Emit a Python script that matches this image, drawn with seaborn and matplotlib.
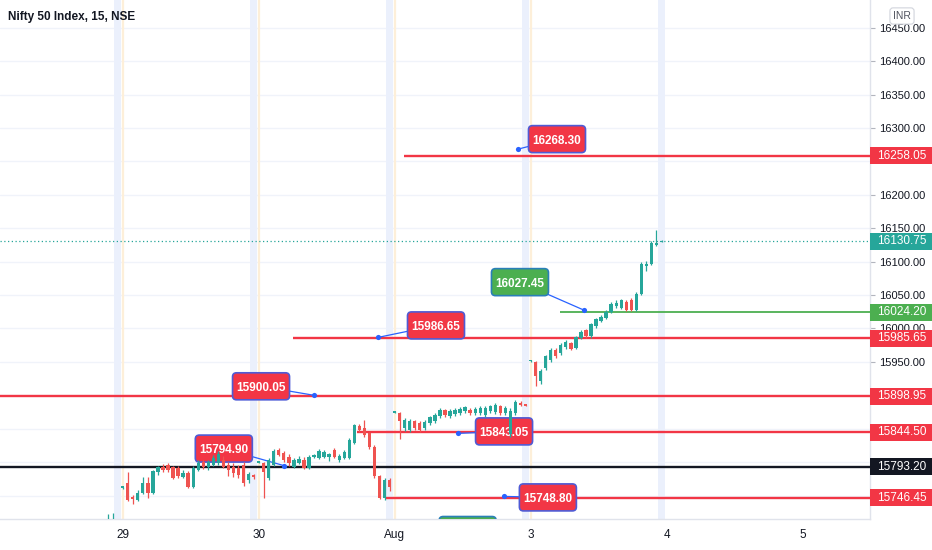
import numpy as np
import pandas as pd
import matplotlib
matplotlib.use("Agg")
import matplotlib.pyplot as plt
import matplotlib.transforms as mtransforms
from matplotlib.patches import Rectangle, FancyBboxPatch
import seaborn as sns

# ---------------- data ----------------
title = "Nifty 50 Index, 15, NSE"
day_labels = ["29", "30", "Aug", "3", "4", "5"]
bars_per_day = 27

# tail of 28 Jul (3 bars)
o28 = [15702, 15706, 15711]
h28 = [15722, 15724, 15714]
l28 = [15690, 15698, 15700]
c28 = [15712, 15713, 15709.4]

# 29 Jul
o29 = [15762.3, 15769, 15748, 15743.5, 15754, 15769, 15754, 15785.5, 15793, 15796, 15793, 15791.5, 15778, 15784,
       15763, 15788.5, 15800.5, 15793, 15796, 15799, 15803.5, 15796, 15793, 15791.5, 15796, 15773.5, 15781]
h29 = [15763.5, 15785.5, 15751, 15758.5, 15778, 15778, 15788.5, 15794.5, 15797.5, 15799, 15794.5, 15794.5, 15788.5, 15787,
       15794.5, 15803.5, 15803.5, 15803.5, 15811, 15817.35, 15809.5, 15800.5, 15799, 15796, 15800.5, 15785.5, 15782.5]
l29 = [15760, 15742, 15737.8, 15742, 15752.5, 15746.5, 15752.5, 15781, 15785.5, 15785.5, 15775, 15776.5, 15776.5, 15761.5,
       15761.5, 15787, 15790, 15788.5, 15794.5, 15796, 15791.5, 15779.5, 15778, 15776.5, 15764.5, 15769, 15775]
c29 = [15763, 15743.5, 15745, 15754, 15769, 15754, 15787, 15793, 15788.5, 15788.5, 15776.5, 15779.5, 15784, 15763,
       15791.5, 15799, 15793, 15800.5, 15806.5, 15812.5, 15793, 15788.5, 15784, 15781, 15769, 15782.5, 15778.45]

# 30 Jul
o30 = [15800, 15799, 15776.5, 15796, 15818.5, 15814, 15808, 15793, 15799, 15803.5, 15791.5, 15808, 15806.5, 15808,
       15808, 15818.5, 15803.5, 15806.5, 15806.5, 15829, 15854.5, 15851.5, 15844, 15823, 15779.5, 15746.5, 15773.5]
h30 = [15801.5, 15800.5, 15806.5, 15820, 15821.5, 15817, 15812.5, 15806.5, 15809.5, 15808, 15811, 15812.5, 15820, 15818.5,
       15814, 15821.5, 15812.5, 15818.5, 15836.5, 15857.5, 15857.5, 15862.8, 15845.5, 15826, 15781, 15776.5, 15776.5]
l30 = [15798.5, 15747, 15773.5, 15794.5, 15809.5, 15800.5, 15794.5, 15791.5, 15797.5, 15790, 15790, 15806.5, 15805, 15806.5,
       15802, 15806.5, 15800.5, 15805, 15805, 15827.5, 15845.5, 15838, 15820, 15776.5, 15744.85, 15743.5, 15757]
c30 = [15800.5, 15785.5, 15803.5, 15817, 15811, 15803.5, 15799, 15803.5, 15805, 15791.5, 15808, 15811, 15817, 15815.5,
       15812.5, 15808, 15809.5, 15815.5, 15833.5, 15856, 15848.5, 15841, 15823, 15779.5, 15746.5, 15773.5, 15763.05]

# 2 Aug
o02 = [15874.9, 15873.5, 15851.5, 15848.5, 15861, 15859, 15851.5, 15858.5, 15861, 15868.5, 15878.5, 15868.5, 15872, 15873.5,
       15876, 15878.5, 15873.5, 15873.5, 15871, 15876, 15875, 15883.5, 15874, 15842, 15874, 15889, 15885.5]
h02 = [15876, 15875.5, 15866.5, 15865, 15863.5, 15862, 15863.5, 15869.5, 15874, 15881.5, 15880, 15880, 15881.5, 15883,
       15884.5, 15881.5, 15883, 15883.5, 15884.5, 15886, 15888, 15886, 15884.5, 15881.5, 15892.9, 15891, 15886]
l02 = [15873, 15834.65, 15847, 15845.5, 15848.5, 15845.5, 15848.5, 15856, 15859, 15866.5, 15868, 15866.5, 15869.5, 15871,
       15874, 15871, 15871, 15871, 15868, 15874, 15872.5, 15871, 15871, 15838, 15871, 15884, 15884]
c02 = [15875.5, 15861, 15863.5, 15862, 15851, 15848.5, 15860.5, 15867, 15871, 15878.5, 15870, 15876, 15878.5, 15880,
       15882, 15873.5, 15880, 15881, 15881, 15883.5, 15886, 15873.5, 15881.5, 15877, 15890.5, 15885, 15885.15]

# 3 Aug
o03 = [15951.55, 15950, 15921, 15941, 15953.5, 15968.5, 15963.5, 15972, 15978.5, 15971, 15986, 15997, 15988.5, 16003.5,
       16011, 16016, 16025, 16033.5, 16031, 16040, 16042, 16027, 16051, 16093.5, 16096, 16124.5, 16130]
h03 = [15953, 15951.5, 15940, 15961, 15971, 15971.5, 15978.5, 15982.5, 15980.5, 15989, 15997, 15999, 16008.5, 16016,
       16019.5, 16027.5, 16039.5, 16042.5, 16044.5, 16042, 16045, 16054, 16099, 16101, 16131, 16146.9, 16132]
l03 = [15949.5, 15914.35, 15917, 15938.5, 15950.5, 15955.5, 15961, 15970, 15968.5, 15969, 15984.5, 15986, 15986, 16001,
       16009.5, 16014.5, 16023.5, 16031, 16029.5, 16025.5, 16025.5, 16025.5, 16049.5, 16086, 16094.5, 16123, 16129]
c03 = [15952, 15928.5, 15937, 15958.5, 15968.5, 15958.5, 15976, 15980, 15970, 15987, 15995, 15988.5, 16006, 16013.5,
       16017, 16025, 16037, 16038.5, 16042, 16027, 16027, 16052, 16097, 16097, 16128.5, 16128.5, 16130.75]

day_start_bar = [-3, 0, 27, 54, 81]

# horizontal drawings
line_levels = [16258.05, 15985.65, 15898.95, 15844.50, 15793.20, 15746.45, 16024.20]
line_start_bar = [55.9, 33.8, -30, 46.5, -30, 52.3, 86.8]
line_kind = ["red", "red", "red", "red", "black", "red", "green"]
last_price = 16130.75
price_ticks = [15950, 16000, 16050, 16100, 16150, 16200, 16300, 16350, 16400, 16450]

# price notes (callouts)
note_values = [16268.30, 15986.65, 15900.05, 15843.05, 15794.90, 15748.80, 16027.45]
note_bars = [78.5, 50.7, 38.0, 66.6, 32.0, 75.7, 91.6]
note_kind = ["red", "red", "red", "red", "red", "red", "green"]
hidden_note = (68.5, 15698.5, "15700.00")

# ---------------- styling / layout ----------------
W, H = 932, 550
PLOT_R, PLOT_B = 870, 519
RED, GREEN_C, RED_C = "#f23645", "#26a69a", "#ef5350"
LINE_GREEN, BLACK, BLUE = "#4caf50", "#131722", "#2962ff"
kind_color = {"red": RED, "black": BLACK, "green": LINE_GREEN}
note_offsets = [(39, 10), (58, 12), (-53, 9), (46, 2), (-60, 17), (44, -1), (-64, 28)]
BOX_W, BOX_H = 57, 27
BOLD_FONT = ['Liberation Sans', 'DejaVu Sans']

sns.set_theme(style="white")
plt.rcParams['font.family'] = ['Liberation Sans', 'DejaVu Sans']

rows = []
for s, (o, h, l, c) in zip(day_start_bar, [(o28, h28, l28, c28), (o29, h29, l29, c29), (o30, h30, l30, c30),
                                           (o02, h02, l02, c02), (o03, h03, l03, c03)]):
    for i in range(len(o)):
        rows.append(dict(bar=s + i, open=o[i], high=h[i], low=l[i], close=c[i]))
df = pd.DataFrame(rows)
df["up"] = df["close"] >= df["open"]
df["color"] = np.where(df["up"], GREEN_C, RED_C)

fig = plt.figure(figsize=(W / 100, H / 100), dpi=100)
fig.patch.set_facecolor("white")
ax = fig.add_axes([0, 1 - PLOT_B / H, PLOT_R / W, PLOT_B / H])
ax.set_facecolor("white")

x0, x1 = -24.36, 148.4
y0, y1 = 15715.0, 16491.4
ax.set_xlim(x0, x1)
ax.set_ylim(y0, y1)
units_per_px = (y1 - y0) / PLOT_B

# session shading
for d in range(5):
    last_bar = -1 + d * bars_per_day
    ax.axvspan(last_bar - 0.65, last_bar + 0.65, color="#ebf0fc", zorder=0.3, lw=0)
for d in range(4):
    ax.axvline(d * bars_per_day, color="#fdefd9", lw=1.6, zorder=0.4)

# grid
for g in np.arange(15750, 16500, 50):
    ax.axhline(g, color="#f0f3fa", lw=1, zorder=0.2)

# horizontal lines
for lvl, st, k in zip(line_levels, line_start_bar, line_kind):
    lw = 1.3 if k == "green" else 1.7
    ax.hlines(lvl, st, x1 + 5, colors=kind_color[k], lw=lw, zorder=3)
ax.axhline(last_price, color=GREEN_C, lw=0.9, ls=(0, (1, 2)), zorder=2.8)

# candles
ax.vlines(df["bar"], df["low"], df["high"], colors=df["color"], lw=0.9, zorder=6)
body_lo = np.minimum(df["open"], df["close"])
body_h = (df["close"] - df["open"]).abs()
min_h = 1.3 * units_per_px
mid = (df["open"] + df["close"]) / 2
bottom = np.where(body_h < min_h, mid - min_h / 2, body_lo)
height = np.maximum(body_h, min_h)
ax.bar(df["bar"], height, bottom=bottom, width=0.66, color=df["color"], lw=0, zorder=7)

# callouts (fixed-size boxes in pixel space)
ident = mtransforms.IdentityTransform()


def draw_box(cx, cy, text, fc, ec, clip):
    box = FancyBboxPatch((cx - BOX_W / 2, cy - BOX_H / 2), BOX_W, BOX_H,
                         boxstyle="round,pad=0,rounding_size=4", transform=ident,
                         fc=fc, ec=ec, lw=1.2, zorder=4.2)
    ax.add_patch(box)
    box.set_clip_on(clip)
    t = ax.text(cx, cy, text, transform=ident, ha="center", va="center_baseline", color="white",
                fontsize=8.5, fontweight="bold", family=BOLD_FONT, zorder=4.3)
    t.set_clip_on(clip)


for v, b, k, (dx, dy) in zip(note_values, note_bars, note_kind, note_offsets):
    fc = RED if k == "red" else LINE_GREEN
    ec = "#4f5bd5" if k == "red" else "#2a7fb8"
    px, py = ax.transData.transform((b, v))
    ax.annotate("", xy=(b, v), xytext=(px + dx, py + dy), textcoords=ident,
                arrowprops=dict(arrowstyle="-", color=BLUE, lw=0.9, shrinkA=0, shrinkB=0),
                zorder=4)
    draw_box(px + dx, py + dy, f"{v:.2f}", fc, ec, False)
ax.scatter(note_bars, note_values, s=14, color=BLUE, zorder=4.5, lw=0)

hx, hy = ax.transData.transform(hidden_note[:2])
draw_box(hx, hy, hidden_note[2], LINE_GREEN, "#2a7fb8", True)

# axes styling
for s in ["top", "left"]:
    ax.spines[s].set_visible(False)
for s in ["right", "bottom"]:
    ax.spines[s].set_color("#e0e3eb")
    ax.spines[s].set_linewidth(1)
ax.yaxis.tick_right()
ax.set_yticks(price_ticks)
ax.set_yticklabels([f"{v:.2f}" for v in price_ticks])
ax.tick_params(axis="y", right=True, length=3.5, width=0.8, color="#b2b5be", pad=3,
               labelsize=8, labelcolor="#131722")
ax.set_xticks([d * bars_per_day for d in range(6)])
ax.set_xticklabels(day_labels)
ax.tick_params(axis="x", bottom=True, length=0, pad=7, labelsize=8.5, labelcolor="#131722")
ax.grid(False)

# price-axis badges
tr = mtransforms.blended_transform_factory(fig.transFigure, ax.transData)
badge_h = 17 * units_per_px
badges = [(lvl, kind_color[k]) for lvl, k in zip(line_levels, line_kind)] + [(last_price, GREEN_C)]
for lvl, col in badges:
    r = Rectangle((PLOT_R / W + 0.0005, lvl - badge_h / 2), 1 - PLOT_R / W, badge_h, transform=tr,
                  fc=col, ec="none", clip_on=False, zorder=20)
    ax.add_artist(r)
    ax.text(877 / W, lvl, f"{lvl:.2f}", transform=tr, ha="left", va="center", color="white",
            fontsize=8.5, clip_on=False, zorder=21)

# title and currency
fig.text(8 / W, 1 - 17 / H, title, ha="left", va="center", fontsize=8.5, fontweight="bold",
         family=BOLD_FONT, color="#131722")
fig.text(902 / W, 1 - 16 / H, "INR", ha="center", va="center", fontsize=7.5, color="#50535e",
         bbox=dict(boxstyle="round,pad=0.3", fc="white", ec="#d1d4dc", lw=0.8))

fig.savefig("out.png", dpi=100, facecolor="white")
